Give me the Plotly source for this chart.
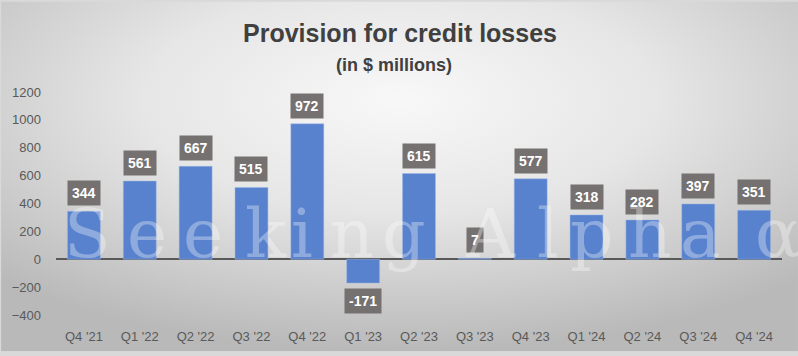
import base64
import plotly.graph_objects as go

# ---- data ----
categories = ["Q4 '21", "Q1 '22", "Q2 '22", "Q3 '22", "Q4 '22", "Q1 '23", "Q2 '23",
              "Q3 '23", "Q4 '23", "Q1 '24", "Q2 '24", "Q3 '24", "Q4 '24"]
provision = [344, 561, 667, 515, 972, -171, 615, 7, 577, 318, 282, 397, 351]
y_ticks = [-400, -200, 0, 200, 400, 600, 800, 1000, 1200]

W, H = 798, 356
ML, MR, MT, MB = 55, 16, 92, 37
PW, PH = W - ML - MR, H - MT - MB

BAR = "#5882CE"
BOX = "#767171"
TXT = "#595959"
FONT = "Liberation Sans, Arial, sans-serif"


def px2paper_x(px):
    return (px - ML) / PW


def py2paper_y(py):
    return (H - MB - py) / PH


fig = go.Figure()
fig.add_trace(go.Bar(
    x=categories, y=provision,
    marker=dict(color=BAR, line=dict(color="rgba(160,185,230,0.6)", width=0.8)),
    hoverinfo="x+y",
))

annotations = []
for c, v in zip(categories, provision):
    pos = v >= 0
    annotations.append(dict(
        x=c, y=v, xref="x", yref="y", text=f"<b>{v}</b>", showarrow=False,
        yanchor="bottom" if pos else "top", yshift=5 if pos else -5,
        bgcolor=BOX, borderpad=4,
        font=dict(family=FONT, size=14, color="white"),
    ))

# title / subtitle
annotations.append(dict(x=px2paper_x(399), y=py2paper_y(32), xref="paper", yref="paper",
                        xanchor="center", yanchor="middle",
                        text="<b>Provision for credit losses</b>", showarrow=False,
                        font=dict(family=FONT, size=25, color="#404040")))
annotations.append(dict(x=px2paper_x(393), y=py2paper_y(65), xref="paper", yref="paper",
                        xanchor="center", yanchor="middle",
                        text="<b>(in $ millions)</b>", showarrow=False,
                        font=dict(family=FONT, size=18, color="#404040")))

# watermark
wm_letters = ["S", "e", "e", "k", "i", "n", "g", "A", "l", "p", "h", "a", "α"]
wm_centers = [87, 146, 202, 265, 301, 351, 403, 490, 548, 592, 650, 700, 778]
for ch, cx in zip(wm_letters, wm_centers):
    annotations.append(dict(
        x=px2paper_x(cx), y=py2paper_y(236), xref="paper", yref="paper",
        text=ch, showarrow=False, xanchor="center", yanchor="middle",
        font=dict(family="DejaVu Serif, serif", size=68, color="rgba(255,255,255,0.33)"),
    ))

svg = f'''<svg xmlns="http://www.w3.org/2000/svg" width="{W}" height="{H}" viewBox="0 0 {W} {H}" preserveAspectRatio="none">
<defs><radialGradient id="g" cx="50%" cy="28%" r="72%">
<stop offset="0" stop-color="#f8f8f8"/><stop offset="0.45" stop-color="#e6e6e6"/><stop offset="1" stop-color="#b9b9b9"/>
</radialGradient></defs><rect width="{W}" height="{H}" fill="url(#g)"/></svg>'''
src = "data:image/svg+xml;base64," + base64.b64encode(svg.encode()).decode()

fig.update_layout(
    width=W, height=H,
    margin=dict(l=ML, r=MR, t=MT, b=MB),
    paper_bgcolor="#d9d9d9", plot_bgcolor="rgba(0,0,0,0)",
    showlegend=False, bargap=0.41,
    annotations=annotations,
    images=[dict(source=src, xref="paper", yref="paper",
                 x=-ML / PW, y=1 + MT / PH, sizex=W / PW, sizey=H / PH,
                 xanchor="left", yanchor="top", sizing="stretch", layer="below")],
    xaxis=dict(showgrid=False, showline=False, ticks="", ticklabelstandoff=12,
               tickfont=dict(family=FONT, size=13, color=TXT), fixedrange=True),
    yaxis=dict(range=[-400, 1200], tickvals=y_ticks, showgrid=False, showline=False,
               zeroline=True, zerolinecolor="#595959", zerolinewidth=1.6,
               ticks="", ticklabelstandoff=14,
               tickfont=dict(family=FONT, size=13, color=TXT), fixedrange=True),
)

fig.write_html("out.html", config={"displayModeBar": False},
               post_script="document.body.style.margin='0';document.body.style.overflow='hidden';")
